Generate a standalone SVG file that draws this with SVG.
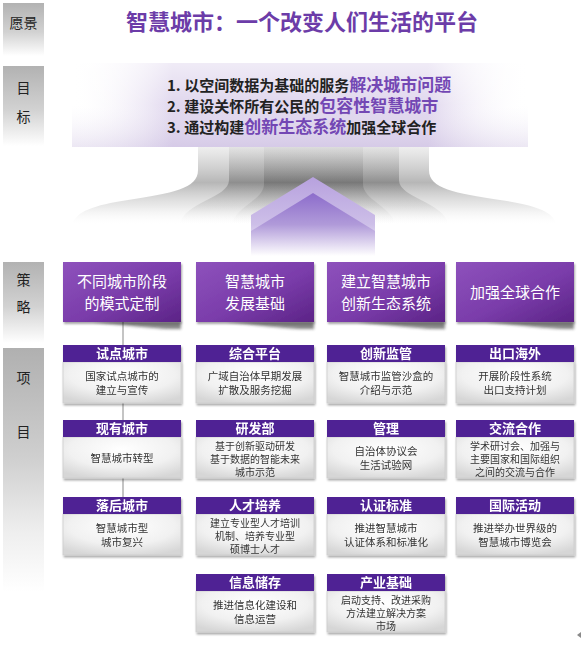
<svg xmlns="http://www.w3.org/2000/svg" width="582" height="647" viewBox="0 0 582 647">
<style>
.lab{font-family:"Noto Sans CJK SC","Noto Sans",sans-serif;font-size:14px;fill:#222;text-anchor:middle}
.title{font-family:"Noto Sans CJK SC","Noto Sans",sans-serif;font-size:22px;font-weight:bold;fill:#6c3ca8;text-anchor:middle}
.goal{font-family:"Noto Sans CJK SC","Noto Sans",sans-serif;font-size:15px;font-weight:bold;fill:#222}
.gp{font-size:17px;fill:#7347b4}
.st{font-family:"Noto Sans CJK SC","Noto Sans",sans-serif;font-size:15px;fill:#fff;text-anchor:middle}
.hd{font-family:"Noto Sans CJK SC","Noto Sans",sans-serif;font-size:13px;font-weight:bold;fill:#fff;text-anchor:middle}
.bd{font-family:"Noto Sans CJK SC","Noto Sans",sans-serif;font-size:10.5px;fill:#333;text-anchor:middle}
.b3{font-size:10px}
.hdr{fill:#4f2194}
.body{fill:url(#bodyG);stroke:#cdcdcd;stroke-width:0.8}
.sbox{fill:url(#stG)}
.curl{fill:#222;opacity:0.55;filter:url(#blur2)}
.layer{fill:url(#funG)}
.conn{stroke:#b0b0b0;stroke-width:1.5;fill:none}
</style>
<defs>
<linearGradient id="labG" x1="0" y1="0" x2="0" y2="1">
<stop offset="0" stop-color="#b2b2b2"/><stop offset="0.55" stop-color="#d2d2d2"/><stop offset="1" stop-color="#ffffff"/>
</linearGradient>
<linearGradient id="labG2" x1="0" y1="0" x2="0" y2="1">
<stop offset="0" stop-color="#b0b0b0"/><stop offset="0.45" stop-color="#cfcfcf"/><stop offset="0.75" stop-color="#eeeeee"/><stop offset="1" stop-color="#ffffff"/>
</linearGradient>
<linearGradient id="bandH" x1="0" y1="0" x2="1" y2="0">
<stop offset="0" stop-color="#ffffff" stop-opacity="0"/><stop offset="0.22" stop-color="#ddd3ec"/><stop offset="0.78" stop-color="#ddd3ec"/><stop offset="1" stop-color="#ffffff" stop-opacity="0"/>
</linearGradient>
<linearGradient id="bandV" x1="0" y1="0" x2="0" y2="1">
<stop offset="0" stop-color="#ffffff" stop-opacity="0.55"/><stop offset="0.5" stop-color="#ffffff" stop-opacity="0.1"/><stop offset="1" stop-color="#c8bade" stop-opacity="0.35"/>
</linearGradient>
<linearGradient id="funG" gradientUnits="userSpaceOnUse" x1="0" y1="147" x2="0" y2="226">
<stop offset="0" stop-color="#cfcfcf" stop-opacity="0.35"/><stop offset="0.45" stop-color="#5e5e5e" stop-opacity="0.45"/><stop offset="0.75" stop-color="#b8b8b8" stop-opacity="0.3"/><stop offset="1" stop-color="#ffffff" stop-opacity="0"/>
</linearGradient>
<linearGradient id="chevO" gradientUnits="userSpaceOnUse" x1="0" y1="177" x2="0" y2="256">
<stop offset="0" stop-color="#b7a1de"/><stop offset="0.6" stop-color="#cdbfe8"/><stop offset="1" stop-color="#ffffff"/>
</linearGradient>
<linearGradient id="chevI" gradientUnits="userSpaceOnUse" x1="0" y1="193" x2="0" y2="256">
<stop offset="0" stop-color="#8c6ccb"/><stop offset="0.5" stop-color="#b09ad9"/><stop offset="1" stop-color="#ffffff"/>
</linearGradient>
<linearGradient id="stG" x1="0" y1="0" x2="1" y2="1">
<stop offset="0" stop-color="#8e52bc"/><stop offset="0.55" stop-color="#7a3caa"/><stop offset="1" stop-color="#5b2386"/>
</linearGradient>
<radialGradient id="bodyG" cx="0.5" cy="0.3" r="0.75">
<stop offset="0" stop-color="#ffffff"/><stop offset="0.6" stop-color="#f1f1f1"/><stop offset="1" stop-color="#d6d6d6"/>
</radialGradient>
<filter id="shd" x="-10%" y="-10%" width="120%" height="130%">
<feGaussianBlur in="SourceAlpha" stdDeviation="1.3"/><feOffset dx="1" dy="2" result="b"/>
<feComponentTransfer><feFuncA type="linear" slope="0.35"/></feComponentTransfer>
<feMerge><feMergeNode/><feMergeNode in="SourceGraphic"/></feMerge>
</filter>
<filter id="blur2" x="-20%" y="-100%" width="140%" height="300%"><feGaussianBlur stdDeviation="1.8"/></filter>
</defs>
<rect width="582" height="647" fill="#ffffff"/>

<g id="label-vision"><rect x="3" y="3" width="41" height="53" fill="url(#labG)"/><text class="lab" x="23.5" y="28">愿景</text></g>
<g id="label-goal"><rect x="3" y="66" width="41" height="80" fill="url(#labG)"/><text class="lab" x="23.5" y="93">目</text><text class="lab" x="23.5" y="122">标</text></g>
<g id="label-strategy"><rect x="3" y="262" width="41" height="81" fill="url(#labG)"/><text class="lab" x="23.5" y="285">策</text><text class="lab" x="23.5" y="312">略</text></g>
<g id="label-project"><rect x="3" y="348" width="41" height="244" fill="url(#labG2)"/><text class="lab" x="23.5" y="383">项</text><text class="lab" x="23.5" y="437">目</text></g>

<g id="vision"><text class="title" x="302" y="30">智慧城市：一个改变人们生活的平台</text></g>

<g id="goals">
<rect x="72" y="63" width="456" height="84" fill="url(#bandH)"/>
<rect x="72" y="63" width="456" height="84" fill="url(#bandV)"/>
<text class="goal" x="167" y="91">1. 以空间数据为基础的服务<tspan class="gp">解决城市问题</tspan></text>
<text class="goal" x="167" y="112">2. 建设关怀所有公民的<tspan class="gp">包容性智慧城市</tspan></text>
<text class="goal" x="167" y="133">3. 通过构建<tspan class="gp">创新生态系统</tspan>加强全球合作</text>
</g>

<g id="funnel">
<path class="layer" d="M198,147 L429,147 L429,170 C429,189 455,193 500,200 C535,205 554,212 556,224 L73,224 C75,212 94,205 128,200 C172,193 198,189 198,170 Z"/>
<path class="layer" d="M229,147 L399,147 L399,180 C399,198 444,202 448,224 L180,224 C184,202 229,198 229,180 Z"/>
<path class="layer" d="M264,147 L363,147 L363,184 C363,200 391,206 395,224 L232,224 C236,206 264,200 264,184 Z"/>
<path d="M313,177 L375,215 L375,256 L251,256 L251,215 Z" fill="url(#chevO)"/>
<path d="M313,193 L375,231 L375,256 L251,256 L251,231 Z" fill="url(#chevI)"/>
</g>

<g id="connectors"><line class="conn" x1="123" y1="322" x2="123" y2="497"/></g>

<g id="strategy-1" transform="translate(63,262)"><path class="curl" d="M30,60 L118,60 L118,67 Q100,68 30,60 Z"/><rect class="sbox" width="118" height="60" filter="url(#shd)"/><text class="st" x="59" y="25">不同城市阶段</text><text class="st" x="59" y="47">的模式定制</text></g>
<g id="strategy-2" transform="translate(196,262)"><path class="curl" d="M30,60 L118,60 L118,67 Q100,68 30,60 Z"/><rect class="sbox" width="118" height="60" filter="url(#shd)"/><text class="st" x="59" y="25">智慧城市</text><text class="st" x="59" y="47">发展基础</text></g>
<g id="strategy-3" transform="translate(327,262)"><path class="curl" d="M30,60 L118,60 L118,67 Q100,68 30,60 Z"/><rect class="sbox" width="118" height="60" filter="url(#shd)"/><text class="st" x="59" y="25">建立智慧城市</text><text class="st" x="59" y="47">创新生态系统</text></g>
<g id="strategy-4" transform="translate(456,262)"><path class="curl" d="M30,60 L118,60 L118,67 Q100,68 30,60 Z"/><rect class="sbox" width="118" height="60" filter="url(#shd)"/><text class="st" x="59" y="36">加强全球合作</text></g>

<g id="p-pilot" transform="translate(63,345)" filter="url(#shd)"><rect class="body" y="17" width="118" height="41"/><rect class="hdr" width="118" height="17"/><text class="hd" x="59" y="13">试点城市</text><text class="bd" x="59" y="35">国家试点城市的</text><text class="bd" x="59" y="49">建立与宣传</text></g>
<g id="p-platform" transform="translate(196,345)" filter="url(#shd)"><rect class="body" y="17" width="118" height="41"/><rect class="hdr" width="118" height="17"/><text class="hd" x="59" y="13">综合平台</text><text class="bd" x="59" y="35">广域自治体早期发展</text><text class="bd" x="59" y="49">扩散及服务挖掘</text></g>
<g id="p-regulation" transform="translate(327,345)" filter="url(#shd)"><rect class="body" y="17" width="118" height="41"/><rect class="hdr" width="118" height="17"/><text class="hd" x="59" y="13">创新监管</text><text class="bd" x="59" y="35">智慧城市监管沙盒的</text><text class="bd" x="59" y="49">介绍与示范</text></g>
<g id="p-export" transform="translate(456,345)" filter="url(#shd)"><rect class="body" y="17" width="118" height="41"/><rect class="hdr" width="118" height="17"/><text class="hd" x="59" y="13">出口海外</text><text class="bd" x="59" y="35">开展阶段性系统</text><text class="bd" x="59" y="49">出口支持计划</text></g>

<g id="p-existing" transform="translate(63,420)" filter="url(#shd)"><rect class="body" y="17" width="118" height="41"/><rect class="hdr" width="118" height="17"/><text class="hd" x="59" y="13">现有城市</text><text class="bd" x="59" y="42">智慧城市转型</text></g>
<g id="p-rnd" transform="translate(196,420)" filter="url(#shd)"><rect class="body" y="17" width="118" height="41"/><rect class="hdr" width="118" height="17"/><text class="hd" x="59" y="13">研发部</text><text class="bd b3" x="59" y="29.5">基于创新驱动研发</text><text class="bd b3" x="59" y="42.5">基于数据的智能未来</text><text class="bd b3" x="59" y="55.5">城市示范</text></g>
<g id="p-manage" transform="translate(327,420)" filter="url(#shd)"><rect class="body" y="17" width="118" height="41"/><rect class="hdr" width="118" height="17"/><text class="hd" x="59" y="13">管理</text><text class="bd" x="59" y="35">自治体协议会</text><text class="bd" x="59" y="49">生活试验网</text></g>
<g id="p-exchange" transform="translate(456,420)" filter="url(#shd)"><rect class="body" y="17" width="118" height="41"/><rect class="hdr" width="118" height="17"/><text class="hd" x="59" y="13">交流合作</text><text class="bd b3" x="59" y="29.5">学术研讨会、加强与</text><text class="bd b3" x="59" y="42.5">主要国家和国际组织</text><text class="bd b3" x="59" y="55.5">之间的交流与合作</text></g>

<g id="p-lagging" transform="translate(63,497)" filter="url(#shd)"><rect class="body" y="17" width="118" height="41"/><rect class="hdr" width="118" height="17"/><text class="hd" x="59" y="13">落后城市</text><text class="bd" x="59" y="35">智慧城市型</text><text class="bd" x="59" y="49">城市复兴</text></g>
<g id="p-talent" transform="translate(196,497)" filter="url(#shd)"><rect class="body" y="17" width="118" height="41"/><rect class="hdr" width="118" height="17"/><text class="hd" x="59" y="13">人才培养</text><text class="bd b3" x="59" y="29.5">建立专业型人才培训</text><text class="bd b3" x="59" y="42.5">机制、培养专业型</text><text class="bd b3" x="59" y="55.5">硕博士人才</text></g>
<g id="p-cert" transform="translate(327,497)" filter="url(#shd)"><rect class="body" y="17" width="118" height="41"/><rect class="hdr" width="118" height="17"/><text class="hd" x="59" y="13">认证标准</text><text class="bd" x="59" y="35">推进智慧城市</text><text class="bd" x="59" y="49">认证体系和标准化</text></g>
<g id="p-intl" transform="translate(456,497)" filter="url(#shd)"><rect class="body" y="17" width="118" height="41"/><rect class="hdr" width="118" height="17"/><text class="hd" x="59" y="13">国际活动</text><text class="bd" x="59" y="35">推进举办世界级的</text><text class="bd" x="59" y="49">智慧城市博览会</text></g>

<g id="p-info" transform="translate(196,574)" filter="url(#shd)"><rect class="body" y="17" width="118" height="41"/><rect class="hdr" width="118" height="17"/><text class="hd" x="59" y="13">信息储存</text><text class="bd" x="59" y="35">推进信息化建设和</text><text class="bd" x="59" y="49">信息运营</text></g>
<g id="p-industry" transform="translate(327,574)" filter="url(#shd)"><rect class="body" y="17" width="118" height="41"/><rect class="hdr" width="118" height="17"/><text class="hd" x="59" y="13">产业基础</text><text class="bd b3" x="59" y="29.5">启动支持、改进采购</text><text class="bd b3" x="59" y="42.5">方法建立解决方案</text><text class="bd b3" x="59" y="55.5">市场</text></g>

<polygon points="577,635 581,632 581,638" fill="#8a8a8a"/>
</svg>
